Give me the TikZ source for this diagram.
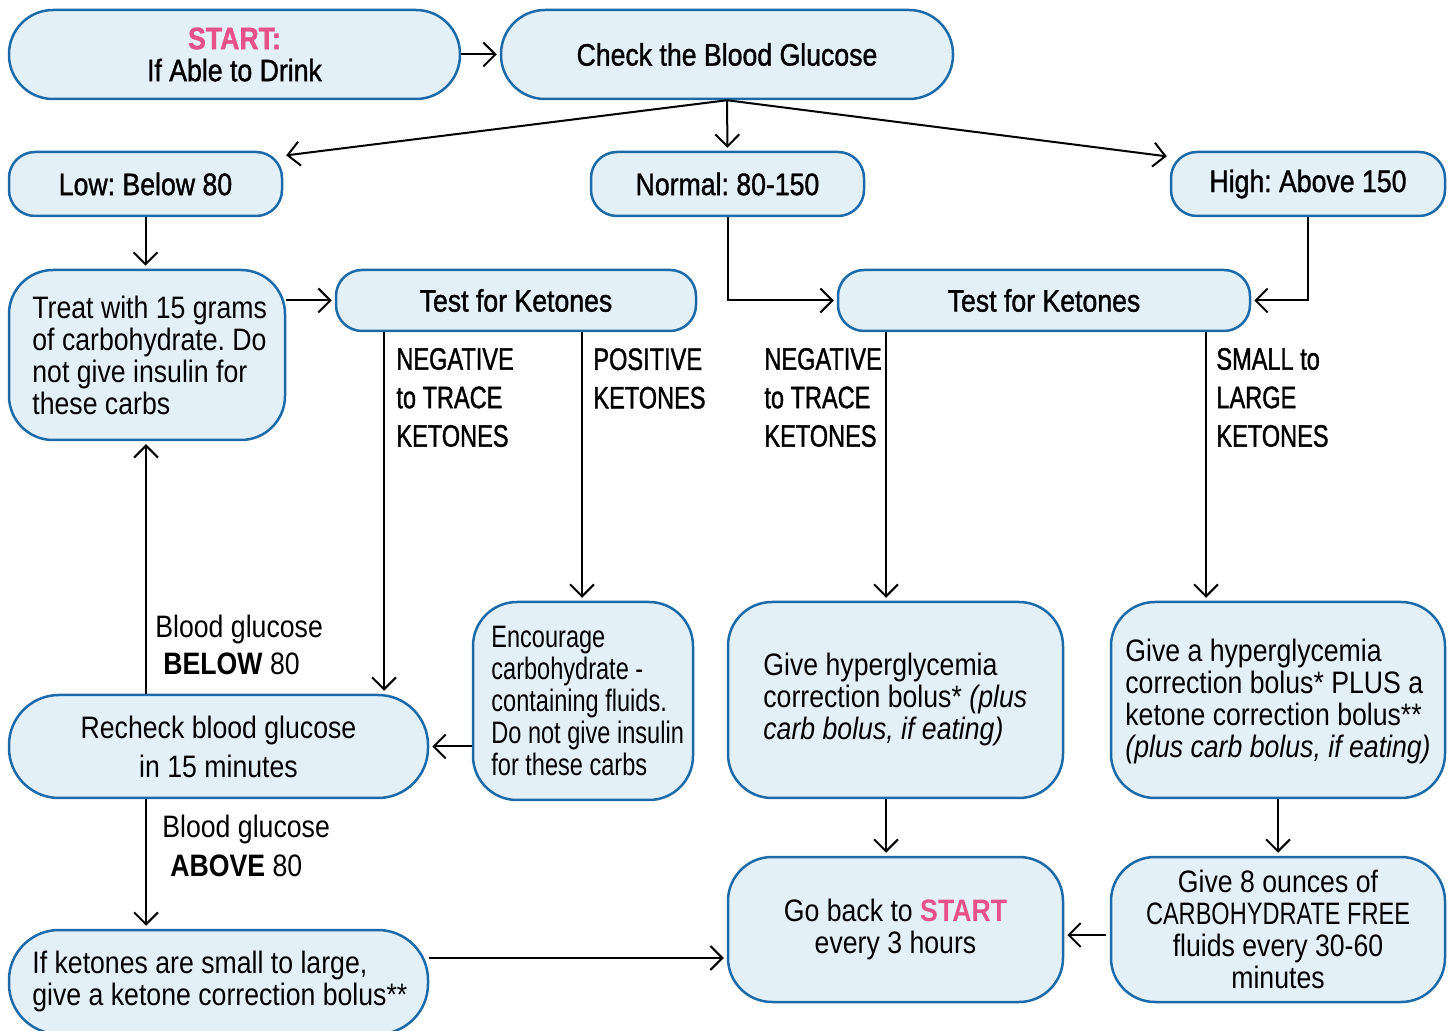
\documentclass[tikz,border=0pt]{standalone}
\usepackage{fontspec}
\setmainfont{Liberation Sans}[FakeStretch=0.86]
\newfontfamily\narrowfont{Liberation Sans}[FakeStretch=0.76]
\newfontfamily\medfont{Liberation Sans}[FakeStretch=0.86, FakeBold=1.2]
\newfontfamily\narrowmedfont{Liberation Sans}[FakeStretch=0.76, FakeBold=1.2]
\usetikzlibrary{arrows.meta}
\definecolor{boxfill}{HTML}{E4F0F8}
\definecolor{boxline}{HTML}{1B6AAA}
\definecolor{startpink}{HTML}{E8508A}
\frenchspacing
\begin{document}
\frenchspacing
\begin{tikzpicture}[x=0.5pt,y=-0.5pt,
  box/.style={draw=boxline, fill=boxfill, line width=1.25pt, rounded corners=22pt,
    inner sep=0pt, align=center, font=\fontsize{15.5}{16}\selectfont},
  slim/.style={box, rounded corners=13pt, font=\medfont\fontsize{15.5}{16}\selectfont},
  txt/.style={inner sep=0pt, align=left, anchor=west, font=\fontsize{15.5}{16}\selectfont},
  lbl/.style={inner sep=0pt, align=left, anchor=west, font=\narrowmedfont\fontsize{15.5}{19.25}\selectfont},
  arr/.style={-{Straight Barb[length=6pt,width=12pt]}, line width=1pt, shorten >=1.5pt}]
\useasboundingbox (0,0) rectangle (1452,1031);

% boxes
\node[box, minimum width=225.5pt, minimum height=44.5pt, font=\medfont\fontsize{15.5}{16}\selectfont] (start) at (234.5,54.5)
  {\textcolor{startpink}{\textbf{START:}}\\If Able to Drink};
\node[box, minimum width=226pt, minimum height=44.5pt, font=\medfont\fontsize{15.5}{16}\selectfont] (check) at (727,54.5) {Check the Blood Glucose};
\node[slim, minimum width=136.5pt, minimum height=32pt] (low) at (145.5,184) {Low: Below 80};
\node[slim, minimum width=136.5pt, minimum height=32pt] (normal) at (727.5,184) {Normal: 80-150};
\node[slim, minimum width=137pt, minimum height=32pt] (high) at (1308,184) {High: Above 150};
\node[box, minimum width=138pt, minimum height=85pt] (treat) at (147,355) {};
\node[txt] (treattext) at (32,355) {Treat with 15 grams\\of carbohydrate. Do\\not give insulin for\\these carbs};
\node[slim, minimum width=180pt, minimum height=30.5pt] (test1) at (516,300.5) {Test for Ketones};
\node[slim, minimum width=206pt, minimum height=30.5pt] (test2) at (1044,300.5) {Test for Ketones};
\node[box, rounded corners=25pt, minimum width=209.5pt, minimum height=51.5pt,
  font=\fontsize{15.5}{19.5}\selectfont] (recheck) at (218.5,746.5) {Recheck blood glucose\\in 15 minutes};
\node[box, minimum width=110pt, minimum height=99pt] (encourage) at (583,701) {};
\node[txt, font=\narrowfont\fontsize{15.5}{16}\selectfont] (enctext) at (491,701)
  {Encourage\\carbohydrate -\\containing fluids.\\Do not give insulin\\for these carbs};
\node[box, minimum width=167.5pt, minimum height=98pt] (hyper) at (895.5,700) {};
\node[txt] (hypertext) at (763,699) {Give hyperglycemia\\correction bolus* \textit{(plus}\\\textit{carb bolus, if eating)}};
\node[box, minimum width=167pt, minimum height=98pt] (ketone) at (1278,700) {};
\node[txt] (ketonetext) at (1125,701) {Give a hyperglycemia\\correction bolus* PLUS a\\ketone correction bolus**\\\textit{(plus carb bolus, if eating)}};
\node[box, rounded corners=25pt, minimum width=209.5pt, minimum height=52pt] (kbolus) at (218.5,982) {};
\node[txt] (kbolustext) at (32,981) {If ketones are small to large,\\give a ketone correction bolus**};
\node[box, minimum width=167.5pt, minimum height=72.5pt] (goback) at (895.5,929.5)
  {Go back to \textcolor{startpink}{\textbf{START}}\\every 3 hours};
\node[box, minimum width=167pt, minimum height=72.5pt] (give8) at (1278,929.5)
  {Give 8 ounces of\\{\narrowfont CARBOHYDRATE FREE}\\fluids every 30-60\\minutes};

% labels
\node[lbl] (neg1) at (396,397.5) {NEGATIVE\\to TRACE\\KETONES};
\node[lbl] (pos1) at (593,378.5) {POSITIVE\\KETONES};
\node[lbl] (neg2) at (764,397.5) {NEGATIVE\\to TRACE\\KETONES};
\node[lbl] (large) at (1216,397.5) {SMALL to\\LARGE\\KETONES};
\node[txt, font=\fontsize{15.5}{18.5}\selectfont] (below) at (155,644.5)
  {Blood glucose\\\hspace*{4pt}\textbf{BELOW} 80};
\node[txt, font=\fontsize{15.5}{19.5}\selectfont] (above) at (162,845.5)
  {Blood glucose\\\hspace*{4pt}\textbf{ABOVE} 80};

% connectors
\draw[arr] (start.east) -- (check.west);
\draw[arr] (check.south) -- ([yshift=-2.5pt]low.north east);
\draw[arr] (check.south) -- (normal.north);
\draw[arr] (check.south) -- ([yshift=-3pt]high.north west);
\draw[arr] (low.south) -- (low.south |- treat.north);
\draw[arr] (test1.west -| treat.east) -- (test1.west);
\draw[arr] (normal.south) |- (test2.west);
\draw[arr] (high.south) |- (test2.east);
\draw[arr] (384,0 |- test1.south) -- (384,0 |- recheck.north);
\draw[arr] (582,0 |- test1.south) -- (582,0 |- encourage.north);
\draw[arr] (886,0 |- test2.south) -- (886,0 |- hyper.north);
\draw[arr] (1206,0 |- test2.south) -- (1206,0 |- ketone.north);
\draw[arr] (146,0 |- recheck.north) -- (146,0 |- treat.south);
\draw[arr] (encourage.west |- recheck.east) -- (recheck.east);
\draw[arr] (146,0 |- recheck.south) -- (146,0 |- kbolus.north);
\draw[arr] (kbolus.east |- 0,958) -- (goback.west |- 0,958);
\draw[arr] (886,0 |- hyper.south) -- (886,0 |- goback.north);
\draw[arr] (ketone.south) -- (give8.north);
\draw[arr, shorten <=2pt] (give8.west |- 0,935) -- (goback.east |- 0,935);
\end{tikzpicture}
\end{document}
